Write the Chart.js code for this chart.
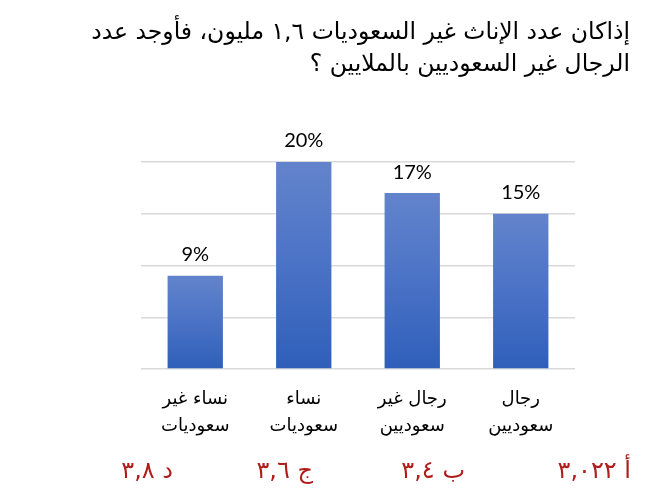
<!DOCTYPE html>
<html lang="ar">
<head>
  <meta charset="utf-8" />
  <title>عدد الرجال غير السعوديين</title>
  <script src="https://cdn.jsdelivr.net/npm/chart.js"></script>
  <style>
    html, body { margin: 0; padding: 0; background: #fff; }
    #wrap { position: relative; width: 661px; height: 493px; overflow: hidden; }
    #chart { position: absolute; left: 0; top: 0; }
    /* السؤال في الأعلى */
    #question {
      position: absolute; right: 31px; top: 15px;
      direction: rtl; text-align: right; white-space: nowrap;
      font-family: "DejaVu Sans", "Noto Sans", sans-serif;
      font-size: 23.5px; line-height: 32px; color: #000;
    }
    /* الخيارات باللون الأحمر */
    .choice {
      position: absolute; top: 456px; direction: rtl; white-space: nowrap;
      font-family: "DejaVu Sans", sans-serif; font-size: 24px; color: #b01c1c;
    }
  </style>
</head>
<body>
<div id="wrap">
  <canvas id="chart" width="661" height="493"></canvas>
  <div id="question">إذاكان عدد الإناث غير السعوديات ١,٦ مليون، فأوجد عدد<br>الرجال غير السعوديين بالملايين ؟</div>
  <span class="choice" style="right:30px">أ ٣,٠٢٢</span>
  <span class="choice" style="right:196px">ب ٣,٤</span>
  <span class="choice" style="right:348px">ج ٣,٦</span>
  <span class="choice" style="right:488px">د ٣,٨</span>
</div>

<script>
  // الفئات (من اليسار إلى اليمين كما في الصورة)
  const categories = [
    ['نساء غير', 'سعوديات'],
    ['نساء', 'سعوديات'],
    ['رجال غير', 'سعوديين'],
    ['رجال', 'سعوديين']
  ];
  // النسب المئوية
  const percentages = [9, 20, 17, 15];
  // خطوط الشبكة
  const axisMax = 20;
  const axisStep = 5;

  // تدرج لوني لكل عمود (فاتح في الأعلى، غامق في الأسفل)
  function barGradient(ctx) {
    const chart = ctx.chart;
    if (!chart.chartArea || !chart.scales.y) return '#4472c4';
    const y = chart.scales.y;
    const top = y.getPixelForValue(ctx.raw);
    const bottom = y.getPixelForValue(0);
    const g = chart.ctx.createLinearGradient(0, top, 0, bottom);
    g.addColorStop(0, '#6384cc');
    g.addColorStop(0.5, '#4a72c6');
    g.addColorStop(1, '#2f5fba');
    return g;
  }

  // كتابة القيم فوق الأعمدة
  const valueLabels = {
    id: 'valueLabels',
    afterDatasetsDraw(chart) {
      const c = chart.ctx;
      const meta = chart.getDatasetMeta(0);
      c.save();
      c.font = '20px Lato, "Liberation Sans", sans-serif';
      c.fillStyle = '#000';
      c.textAlign = 'center';
      c.textBaseline = 'bottom';
      meta.data.forEach((bar, i) => {
        c.fillText(percentages[i] + '%', bar.x, bar.y - 11);
      });
      c.restore();
    }
  };

  new Chart(document.getElementById('chart'), {
    type: 'bar',
    data: {
      labels: categories,
      datasets: [{
        data: percentages,
        backgroundColor: barGradient,
        barPercentage: 0.51,
        categoryPercentage: 1
      }]
    },
    options: {
      responsive: false,
      animation: false,
      layout: { padding: { left: 141, right: 86, top: 162, bottom: 44 } },
      plugins: {
        legend: { display: false },
        tooltip: { enabled: false }
      },
      scales: {
        x: {
          grid: { display: false },
          border: { display: false },
          ticks: {
            color: '#000',
            padding: 9,
            font: { family: '"DejaVu Sans", Arial, sans-serif', size: 18, lineHeight: 1.5 }
          }
        },
        y: {
          min: 0,
          max: axisMax,
          ticks: { display: false, stepSize: axisStep },
          border: { display: false },
          grid: { color: '#d9d9d9', lineWidth: 1.5, drawTicks: false }
        }
      }
    },
    plugins: [valueLabels]
  });
</script>
</body>
</html>
